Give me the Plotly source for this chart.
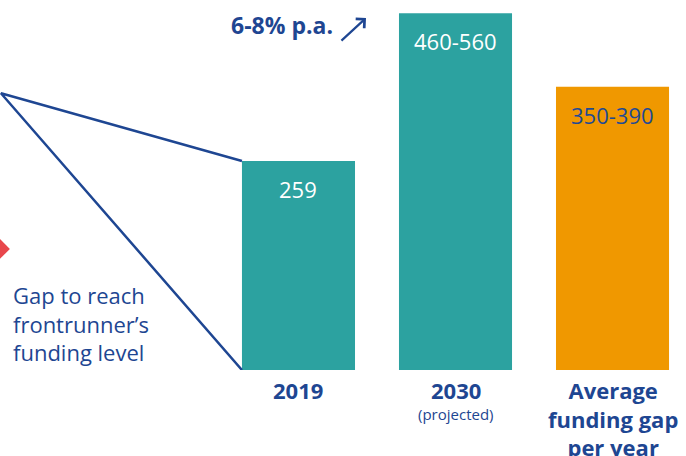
import plotly.graph_objects as go

categories = ["2019", "2030", "Average"]
values = [259, 442, 351]
value_labels = ["259", "460-560", "350-390"]
bar_colors = ["#2CA2A0", "#2CA2A0", "#F09800"]
label_colors = ["white", "white", "#1F4A93"]
cat_titles = ["<b>2019</b>", "<b>2030</b>", "<b>Average<br>funding gap<br>per year</b>"]
cat_sub = ["", "(projected)", ""]
growth_text = "<b>6-8% p.a.</b>"
gap_text = "Gap to reach<br>frontrunner\u2019s<br>funding level"

NAVY = "#1E4692"
FONT = "Open Sans"
xs = [0, 1, 2]
bw = 0.72

fig = go.Figure()
fig.add_trace(go.Bar(
    x=xs, y=values, width=bw, marker=dict(color=bar_colors, line=dict(width=0)),
    hoverinfo="skip",
))

# apex of the gap wedge
apex_x, apex_y = -1.895, 343
left_edge = xs[0] - bw / 2
fig.add_trace(go.Scatter(
    x=[left_edge, apex_x, left_edge], y=[values[0], apex_y, 0],
    mode="lines", line=dict(color=NAVY, width=2.5), hoverinfo="skip", cliponaxis=False,
))

# red diamond (mostly cut off)
dcx, dcy, dx, dy = -1.908, 150, 0.070, 13.6
fig.add_shape(type="path", xref="x", yref="y",
              path=f"M {dcx-dx} {dcy} L {dcx} {dcy+dy} L {dcx+dx} {dcy} L {dcx} {dcy-dy} Z",
              fillcolor="#E8474C", line=dict(width=0))

annotations = []
for x, v, t, c in zip(xs, values, value_labels, label_colors):
    annotations.append(dict(x=x, y=v, xref="x", yref="y", text=t, showarrow=False,
                            yanchor="middle", yshift=-28,
                            font=dict(family=FONT, size=22, color=c)))
for x, t, s in zip(xs, cat_titles, cat_sub):
    annotations.append(dict(x=x, y=0, xref="x", yref="y", text=t, showarrow=False,
                            yanchor="top", yshift=-3,
                            font=dict(family=FONT, size=22, color=NAVY), align="center"))
    if s:
        annotations.append(dict(x=x, y=0, xref="x", yref="y", text=s, showarrow=False,
                                yanchor="top", yshift=-32,
                                font=dict(family=FONT, size=15, color=NAVY)))

annotations.append(dict(x=0, y=0.127, xref="paper", yref="paper", text=gap_text, showarrow=False,
                        xanchor="left", yanchor="middle", xshift=11, align="left",
                        font=dict(family=FONT, size=22, color=NAVY)))
annotations.append(dict(x=0.232, y=427.5, xref="x", yref="y", text=growth_text, showarrow=False,
                        xanchor="right", yanchor="middle",
                        font=dict(family=FONT, size=23, color=NAVY)))
# growth arrow
annotations.append(dict(x=0.430, y=436.2, ax=0.264, ay=406.5, xref="x", yref="y", axref="x", ayref="y",
                        text="", showarrow=True, arrowhead=4, arrowsize=1.1, arrowwidth=2.2,
                        arrowcolor=NAVY))

fig.update_layout(
    width=686, height=456,
    margin=dict(l=0, r=0, t=0, b=86),
    plot_bgcolor="white", paper_bgcolor="white",
    showlegend=False,
    xaxis=dict(range=[-1.901, 2.468], visible=False),
    yaxis=dict(range=[0, 458.5], visible=False),
    annotations=annotations,
)
fig.write_html("out.html", config={"displayModeBar": False},
               post_script="document.body.style.margin='0px';document.body.style.overflow='hidden';")
